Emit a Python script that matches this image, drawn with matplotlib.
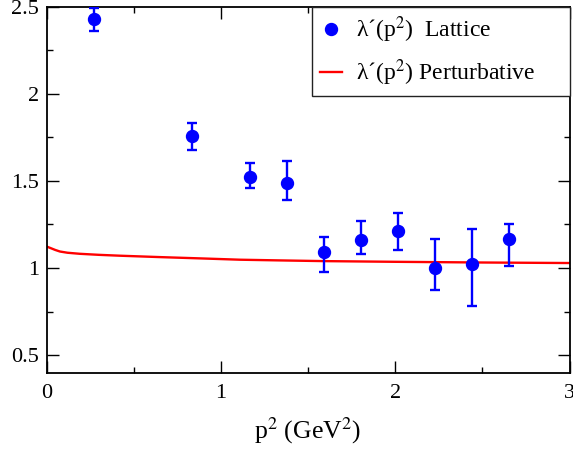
import matplotlib.pyplot as plt
from matplotlib.ticker import MultipleLocator

plt.rcParams['font.family'] = ['Liberation Serif', 'DejaVu Serif']
plt.rcParams['mathtext.fontset'] = 'stix'

# lattice data
p2_lat = [0.274, 0.833, 1.168, 1.378, 1.590, 1.804, 2.017, 2.227, 2.439, 2.652]
lam_lat = [2.43, 1.76, 1.52, 1.49, 1.095, 1.163, 1.21, 1.003, 1.026, 1.168]
err_lo = [2.36, 1.675, 1.458, 1.393, 0.98, 1.078, 1.105, 0.874, 0.782, 1.013]
err_hi = [2.49, 1.83, 1.603, 1.615, 1.178, 1.27, 1.314, 1.168, 1.222, 1.255]

# perturbative curve
p2_pert = [0.0, 0.02, 0.05, 0.077, 0.12, 0.19, 0.3, 0.42, 0.65, 0.9, 1.11, 1.34, 1.59, 2.0, 2.5, 3.0]
lam_pert = [1.124, 1.116, 1.104, 1.095, 1.088, 1.082, 1.076, 1.071, 1.063, 1.055, 1.048, 1.044, 1.040, 1.036, 1.032, 1.029]

yerr = [[v - lo for v, lo in zip(lam_lat, err_lo)],
        [hi - v for v, hi in zip(lam_lat, err_hi)]]

fig = plt.figure(figsize=(5.73, 4.49), dpi=100)
ax = fig.add_axes([0.0812, 0.1699, 0.9127, 0.8156])

ax.errorbar(p2_lat, lam_lat, yerr=yerr, fmt='none', ecolor='#0000ff',
            elinewidth=1.7, capsize=3.6, capthick=1.7, zorder=3)
pts, = ax.plot(p2_lat, lam_lat, 'o', color='#0000ff', ms=8.6, zorder=4,
               label="λ\u00b4(p$^{2}$)  Lattice")
line, = ax.plot(p2_pert, lam_pert, color='#ff0000', lw=1.7, zorder=2,
                label="λ\u00b4(p$^{2}$) Perturbative")

ax.set_xlim(0, 3)
ax.set_ylim(0.4, 2.5)
ax.xaxis.set_minor_locator(MultipleLocator(0.5))
ax.yaxis.set_minor_locator(MultipleLocator(0.25))
ax.set_yticks([0.5, 1, 1.5, 2, 2.5])
ax.set_yticklabels(['0.5', '1', '1.5', '2', '2.5'])
ax.set_xticks([0, 1, 2, 3])
ax.set_xticklabels(['0', '1', '2', '3'])
ax.tick_params(which='both', direction='in', top=True, right=True, labelsize=16, width=1)
ax.tick_params(which='major', length=8.4)
ax.tick_params(which='minor', length=4)
ax.tick_params(axis='x', pad=8)
ax.tick_params(axis='y', pad=5.5)
for s in ax.spines.values():
    s.set_linewidth(1.3)

ax.set_xlabel("p$^{2}$ (GeV$^{2}$)", fontsize=18.5, labelpad=9)

# legend box spans from x=~0.508 (axes coords) to the right spine
leg = ax.legend(handles=[pts, line], loc='upper right', fontsize=17, frameon=True,
                fancybox=False, edgecolor='#222222', framealpha=1,
                bbox_to_anchor=(0.508, 0.0, 0.492, 1.0), mode='expand',
                borderaxespad=0, handlelength=0.9, handletextpad=0.6,
                borderpad=0.35, labelspacing=0.5)
leg.get_frame().set_linewidth(1.0)

fig.savefig('out.png', dpi=100)
